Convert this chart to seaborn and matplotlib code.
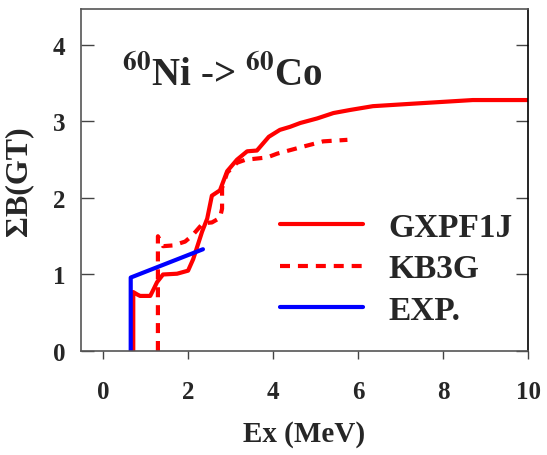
import matplotlib
matplotlib.use("Agg")
import matplotlib.pyplot as plt
import seaborn as sns
import pandas as pd

# ---- data ----
gx_E = [0.71, 0.71, 0.80, 0.87, 1.11, 1.20, 1.27, 1.41, 1.74, 2.00, 2.12, 2.33, 2.45, 2.56, 2.75,
        2.92, 3.15, 3.39, 3.62, 3.90, 4.16, 4.40, 4.64, 5.04, 5.42, 5.81, 6.35, 7.22, 8.70, 10.0]
gx_B = [0.00, 0.77, 0.74, 0.72, 0.72, 0.82, 0.90, 1.00, 1.01, 1.05, 1.20, 1.56, 1.73, 2.03, 2.10,
        2.35, 2.50, 2.61, 2.62, 2.80, 2.89, 2.93, 2.98, 3.04, 3.11, 3.15, 3.20, 3.23, 3.28, 3.28]

kb_E = [1.29, 1.29, 1.41, 1.65, 1.93, 2.10, 2.35, 2.56, 2.75, 2.80, 2.80, 2.92, 3.15, 3.35,
        3.53, 3.86, 4.10, 4.70, 5.18, 5.75]
kb_B = [0.00, 1.50, 1.37, 1.38, 1.43, 1.51, 1.67, 1.68, 1.74, 1.86, 2.13, 2.33, 2.46, 2.50,
        2.51, 2.53, 2.58, 2.67, 2.74, 2.76]

ex_E = [0.65, 0.65, 2.35]
ex_B = [0.00, 0.96, 1.33]

x_ticks = [0, 2, 4, 6, 8, 10]
y_ticks = [0, 1, 2, 3, 4]
labels = ["GXPF1J", "KB3G", "EXP."]

sns.set_style("ticks")
plt.rcParams['font.family'] = ['Liberation Serif', 'DejaVu Serif']
plt.rcParams['font.weight'] = 'bold'
plt.rcParams['mathtext.fontset'] = 'stix'

fig = plt.figure(figsize=(5.47, 4.56), dpi=100)
ax = fig.add_axes([81/547, 1-352/456, (528-81)/547, (352-10)/456])

df_gx = pd.DataFrame({"E": gx_E, "B": gx_B})
df_kb = pd.DataFrame({"E": kb_E, "B": kb_B})
df_ex = pd.DataFrame({"E": ex_E, "B": ex_B})

common = dict(sort=False, estimator=None, errorbar=None, ax=ax, lw=3)
sns.lineplot(data=df_gx, x="E", y="B", color="#ff0000", label=labels[0], **common)
sns.lineplot(data=df_kb, x="E", y="B", color="#ff0000",
             linestyle=(0, (2.4, 1.9)), label=labels[1], **common)
sns.lineplot(data=df_ex, x="E", y="B", color="#0000ff", label=labels[2], **common)

ax.set_xlim(-0.52, 10)
ax.set_ylim(0, 4.47)
ax.set_xticks(x_ticks)
ax.set_yticks(y_ticks)
ax.set_xticklabels([str(t) for t in x_ticks], fontsize=18, fontweight='bold')
ax.set_yticklabels([str(t) for t in y_ticks], fontsize=18, fontweight='bold')
ax.tick_params(axis='x', direction='out', length=6, width=1, pad=15, color='#444')
ax.tick_params(axis='y', direction='in', length=9, width=1, pad=11, left=True, right=True, color='#444')

for s in ['top', 'left', 'bottom']:
    ax.spines[s].set_color('#555')
ax.spines['right'].set_color('#000')
for s in ax.spines.values():
    s.set_linewidth(1.2)
    s.set_visible(True)

ax.set_xlabel("Ex (MeV)", fontsize=21, fontweight='bold', labelpad=12)
ax.set_ylabel("ΣB(GT)", fontsize=23, fontweight='bold', labelpad=14)

ax.text(0.092, 0.78, r"$^{60}$Ni -> $^{60}$Co", transform=ax.transAxes,
        fontsize=28, fontweight='bold', va='baseline', ha='left')

leg = ax.legend(loc='center left', bbox_to_anchor=(0.445, 0.24), frameon=False,
                fontsize=24, handlelength=2.5, handletextpad=0.75, labelspacing=0.32,
                borderpad=0, borderaxespad=0)
for t in leg.get_texts():
    t.set_fontweight('bold')

fig.savefig("out.png", dpi=100)
